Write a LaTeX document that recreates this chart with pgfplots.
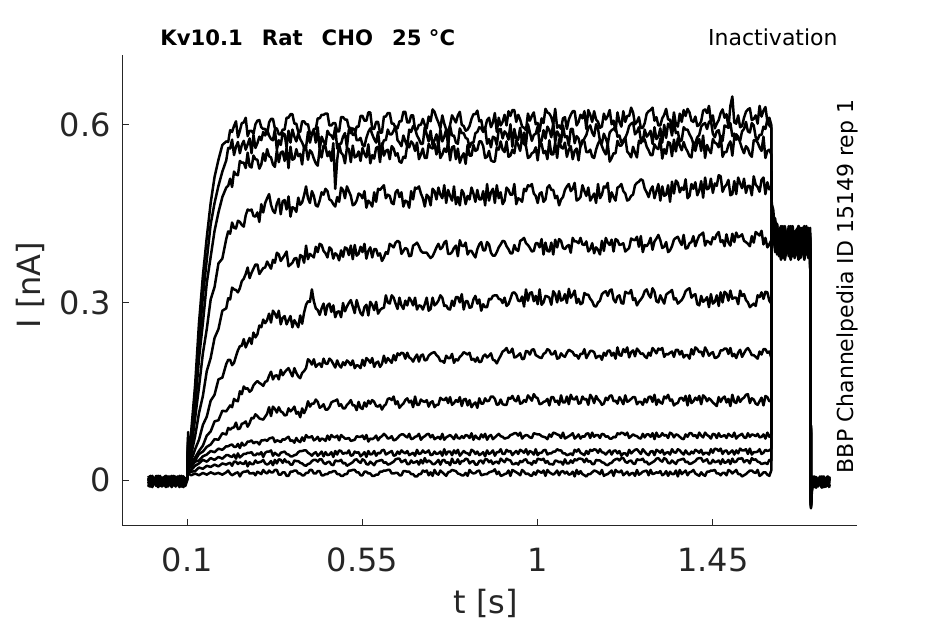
\documentclass[border=0pt]{standalone}
\usepackage{fontspec}
\setmainfont{DejaVu Sans}
\usepackage{pgfplots}
\usepackage{pgfplotstable}
\pgfplotsset{compat=1.18}
\definecolor{axgray}{RGB}{38,38,38}
% time in ms, current in pA
\pgfplotstableread{
t a b c d e f g h i j k l
0 1 -10 3 7 2 0 3 -2 -3 -2 -12 -6
5 -6 2 -9 -1 5 7 -5 6 -11 -9 -5 4
10 -12 5 -5 -8 6 -7 -10 -3 -7 3 4 7
15 -5 -4 0 1 -4 -1 -6 3 2 1 0 -1
20 4 -8 3 -3 -2 -10 4 -9 5 -6 7 -8
25 0 -2 -5 -11 -9 2 7 -5 6 -12 -7 1
30 7 6 -10 -7 3 5 -1 0 -4 -5 -1 -3
35 -7 -3 -6 2 1 -4 -8 3 -2 4 -10 -11
40 -1 3 4 5 -6 -8 1 -5 -9 0 2 -7
45 -10 -9 7 6 -12 -2 -3 -10 3 7 5 2
50 2 -5 -1 -4 -5 6 -11 -6 1 -7 -4 5
55 5 0 -8 -2 4 -3 -7 4 -6 -1 -8 6
60 -4 3 1 -9 0 3 2 7 -12 -10 -2 -4
65 -8 -5 -3 3 7 -9 5 -1 -5 2 6 -2
70 -2 -10 -11 1 -7 -5 6 -8 4 5 -3 -9
75 6 -6 -7 -6 -1 0 -4 1 0 -4 3 3
80 -3 4 2 -12 -10 3 -2 -3 7 -8 -9 1
85 3 7 5 -5 2 -5 -9 -11 -7 -2 -5 -6
90 -9 -1 6 4 5 -10 3 -7 -1 6 0 -12
95 -5 -8 -4 0 -4 -6 1 2 -10 -3 3 -5
100 4 6 2 5 1 6 3 4 0 5 2 3
102 72 81 62 66 55 58 47 50 38 36 29 24
105 48 44 38 34 31 30 27 24 21 18 13 10
110 82 73 61 52 43 33 27 26 22 17 14 8
120 160 148 124 104 74 52 38 33 31 24 15 11
130 265 230 205 157 113 68 49 44 33 28 21 8
140 345 310 265 214 142 93 58 48 40 34 19 12
150 410 372 333 255 184 107 75 56 43 31 24 9
160 468 432 377 305 206 134 82 60 49 37 22 13
170 512 468 421 326 240 144 99 69 47 34 26 10
180 541 497 452 366 255 170 101 68 53 39 23 12
190 566 521 478 374 286 173 117 79 51 36 28 9
200 572 540 494 407 290 196 116 77 57 42 26 13
205 571 561 497 420 307 203 121 88 57 42 28 16
210 591 560 509 416 305 203 126 85 59 40 29 11
215 588 575 495 435 325 194 123 88 60 39 24 8
220 598 549 521 426 322 198 137 89 56 43 31 10
225 606 563 516 425 321 209 134 97 56 36 31 12
230 579 571 515 438 317 219 133 86 61 45 27 13
235 590 552 539 436 324 226 150 87 54 38 30 6
240 603 566 536 431 336 227 145 95 63 41 28 12
245 604 573 536 428 340 238 158 96 58 44 27 14
250 612 558 527 447 348 224 154 99 60 44 32 14
255 581 567 553 457 359 232 155 90 65 46 23 16
260 590 577 530 455 341 240 149 96 65 46 30 11
265 590 552 528 457 350 230 152 105 67 47 27 11
270 585 583 548 446 357 249 160 104 62 42 27 12
275 601 561 542 445 364 241 164 111 64 42 33 8
280 607 569 541 452 364 246 167 108 64 45 29 14
285 608 580 526 436 348 261 164 104 60 43 30 12
290 596 574 533 466 353 258 162 103 67 47 31 10
295 593 588 552 452 358 271 159 102 67 39 34 17
300 593 582 539 468 359 265 166 107 68 46 28 13
305 584 592 559 476 369 270 167 112 66 48 26 11
310 604 582 547 483 363 281 176 123 70 48 28 16
315 610 576 545 465 357 266 183 108 71 50 32 13
320 610 574 533 455 372 286 170 124 72 41 25 13
325 594 592 529 451 367 281 176 120 64 46 34 17
330 594 558 557 467 384 274 177 114 67 43 28 17
335 584 574 537 475 381 286 170 123 66 41 35 9
340 584 566 553 449 370 263 186 116 64 46 34 9
345 592 586 555 471 375 274 177 114 69 47 29 13
350 592 584 539 473 380 277 182 109 68 48 35 13
355 612 562 561 457 386 263 186 110 71 44 30 7
360 612 590 527 479 361 270 189 121 73 43 31 7
365 618 570 563 445 364 277 182 116 66 40 26 14
370 618 592 541 461 367 258 175 119 67 40 26 14
375 602 580 543 459 374 270 189 124 63 42 33 16
380 602 572 559 453 375 264 181 112 71 43 32 16
385 588 586 547 477 360 258 175 115 66 47 32 11
390 588 576 551 465 380 278 172 106 64 49 29 11
395 606 570 533 469 378 264 181 121 72 49 28 8
400 606 562 565 481 367 283 184 113 66 50 25 8
405 601 562 561 496 396 296 189 120 76 50 24 12
410 601 588 541 476 373 302 204 133 72 46 27 12
415 585 570 557 468 382 301 201 124 72 44 28 17
420 585 584 553 488 379 322 195 129 74 41 32 17
425 593 590 543 480 376 302 204 129 67 45 34 11
430 593 570 535 464 394 290 191 136 69 47 34 11
435 611 596 531 462 385 287 195 132 73 41 31 15
440 611 558 559 472 399 279 197 122 66 44 35 15
445 617 580 545 486 397 290 191 124 70 48 35 8
450 617 572 565 482 387 298 205 128 69 40 29 8
455 619 566 563 492 383 279 197 119 66 47 27 10
460 619 590 547 488 376 295 196 119 75 42 30 10
465 599 584 555 474 393 298 205 123 68 43 31 13
470 599 582 539 472 390 284 202 131 76 47 26 13
475 603 576 569 466 374 295 196 133 73 39 25 15
480 603 596 492 462 383 275 190 134 72 49 33 15
485 589 560 541 478 380 284 202 136 75 43 32 10
490 589 568 567 470 371 285 194 125 67 50 32 10
495 613 568 553 494 388 275 190 128 76 49 34 7
500 613 580 549 490 377 299 199 121 73 44 28 7
505 609 586 535 476 393 285 194 121 70 46 29 10
510 609 562 561 496 391 293 202 127 70 45 24 10
515 595 592 559 488 380 299 199 130 71 50 26 16
520 595 586 537 480 396 304 194 135 66 41 28 16
525 583 594 565 464 373 293 202 126 67 42 30 17
530 583 592 545 466 397 282 189 126 68 48 34 17
535 597 574 547 472 379 304 194 118 74 46 35 13
540 597 574 555 484 382 292 193 132 73 47 31 13
545 615 578 539 482 394 282 189 122 73 40 29 8
550 615 566 561 476 385 278 203 120 75 43 35 8
555 607 564 551 488 399 292 193 131 69 47 33 14
560 607 578 545 460 374 296 206 124 76 39 27 14
565 621 588 567 472 387 278 203 134 65 49 26 11
570 621 594 535 468 393 301 198 129 70 43 31 11
575 593 584 549 462 376 296 206 135 69 44 28 7
580 593 576 543 486 390 287 191 132 71 49 25 7
585 605 570 561 470 390 301 198 125 75 41 31 9
590 605 588 563 492 379 281 200 124 67 46 32 9
595 587 558 537 490 383 287 191 127 72 45 33 14
600 587 564 569 494 370 290 196 119 74 50 34 14
605 614 574 548 498 376 291 210 125 78 51 29 16
610 614 574 556 476 385 312 198 128 75 43 30 16
615 620 592 558 482 382 300 206 137 70 45 26 17
620 620 584 542 480 399 298 202 138 71 47 27 17
625 602 584 564 468 396 312 198 135 74 49 29 11
630 602 590 560 466 393 308 211 141 67 41 31 11
635 594 598 548 486 401 298 202 128 68 42 35 12
640 594 574 552 490 404 289 214 133 71 48 36 12
645 606 570 538 478 402 308 211 122 75 44 36 8
650 606 564 536 486 382 295 215 126 77 50 30 8
655 622 582 546 462 387 289 214 129 77 47 32 15
660 622 572 544 472 392 303 205 135 74 45 34 15
665 604 564 566 470 390 295 215 138 72 49 27 14
670 604 592 562 460 378 308 207 131 78 42 27 14
675 616 588 572 488 379 303 205 134 69 44 33 10
680 616 598 568 474 396 295 200 123 70 46 29 10
685 592 594 556 494 398 308 207 141 73 41 30 6
690 592 582 570 492 401 288 212 127 74 51 32 6
695 600 576 542 496 395 295 200 127 78 44 26 10
700 600 568 550 484 387 294 210 136 68 45 34 10
705 610 568 560 476 384 288 212 133 72 50 28 16
710 600 596 544 462 384 297 202 132 74 46 37 14
715 594 584 544 482 384 308 203 135 77 47 30 16
720 614 572 568 478 379 286 210 124 78 50 33 8
725 606 590 562 464 375 289 213 131 72 42 31 13
730 626 566 560 492 378 308 215 133 76 43 27 7
735 622 574 568 488 385 295 216 123 69 48 27 17
740 612 584 550 474 393 298 211 127 71 44 30 11
745 604 564 570 494 399 303 208 127 73 45 34 9
750 594 592 544 482 390 312 201 139 69 48 26 16
755 616 572 550 476 393 308 201 136 78 41 33 13
760 602 580 560 498 401 294 198 135 68 52 34 10
765 592 592 554 468 404 295 210 139 72 43 29 7
770 588 564 570 490 382 289 206 130 74 48 30 13
775 600 598 540 480 382 288 206 140 76 48 25 14
780 616 582 562 472 385 303 213 127 73 42 36 17
785 610 582 564 496 392 294 198 130 69 50 29 16
790 604 570 542 466 396 309 204 135 77 45 29 15
795 616 568 560 478 378 309 202 132 71 51 35 11
800 622 594 536 464 405 300 208 140 70 41 27 10
805 600 586 546 490 396 314 211 125 74 45 32 8
810 598 586 552 484 395 288 216 136 71 49 32 8
815 590 578 534 466 401 302 214 137 76 46 36 12
820 592 576 566 480 381 302 212 126 75 45 35 7
825 598 562 548 474 387 291 215 135 71 42 28 17
830 610 570 548 494 387 292 203 123 79 51 31 13
835 618 570 566 484 381 305 205 128 68 49 32 11
840 618 586 556 470 376 311 200 131 75 44 26 12
845 624 588 558 490 390 298 207 122 71 48 26 15
850 606 596 572 474 398 305 199 138 69 42 32 16
855 608 594 572 474 402 286 200 129 77 44 33 8
860 590 588 564 488 388 297 209 129 72 47 28 9
865 594 596 544 464 388 292 212 138 78 40 35 10
870 608 568 546 500 402 292 207 133 68 50 35 10
875 612 576 556 472 398 306 210 134 74 44 30 13
880 596 562 540 486 384 305 214 141 76 46 33 14
885 604 580 538 492 379 311 203 141 69 50 27 15
890 620 578 538 468 379 312 202 137 72 41 30 18
895 588 566 562 498 385 312 197 127 75 47 31 10
900 612 592 558 476 393 306 204 128 78 47 28 14
905 599 593 572 486 398 305 210 136 74 52 36 7
910 605 577 558 466 404 299 217 128 73 44 33 8
915 617 589 554 472 403 308 219 127 70 44 30 10
920 599 585 572 494 395 294 223 127 71 51 36 11
925 623 575 546 490 390 297 215 139 72 48 34 16
930 615 601 548 482 383 306 216 137 76 49 33 7
935 625 563 558 482 383 316 222 142 77 42 27 17
940 625 593 552 500 397 317 207 135 79 46 27 15
945 605 577 574 466 389 313 208 133 79 49 29 13
950 617 575 566 476 387 303 211 142 75 44 26 11
955 609 595 556 474 404 302 214 129 80 51 32 8
960 597 569 578 470 406 310 204 130 70 49 30 17
965 595 587 568 492 409 293 205 135 74 46 34 14
970 591 567 564 488 400 322 218 132 76 52 35 10
975 619 601 544 498 397 303 217 143 75 43 29 11
980 607 587 546 496 392 316 212 139 72 49 29 8
985 615 573 552 500 386 317 220 134 71 47 26 7
990 621 583 554 484 387 302 221 145 79 43 32 13
995 601 585 562 480 400 311 211 140 78 52 29 9
1000 603 597 540 468 400 297 209 138 77 42 36 16
1005 589 567 568 484 393 322 207 128 77 46 35 14
1010 611 573 568 486 407 296 206 129 74 46 34 12
1015 603 591 552 470 381 300 213 132 73 50 36 16
1020 627 577 556 474 401 311 215 133 72 51 29 7
1025 621 597 542 494 387 310 221 137 69 43 32 17
1030 619 591 574 498 386 308 219 126 77 45 27 13
1035 613 579 550 490 401 296 212 140 73 45 27 11
1040 601 603 550 490 381 319 213 140 80 48 26 9
1045 627 571 570 476 406 314 218 132 79 48 33 12
1050 595 589 544 480 393 300 205 134 77 52 32 16
1055 599 583 576 464 407 319 206 127 76 50 30 8
1060 593 571 562 474 404 303 214 143 71 50 31 14
1065 611 599 560 478 392 305 210 131 80 45 26 15
1070 613 579 570 490 390 314 208 131 70 45 35 11
1075 593 581 546 496 395 299 215 141 72 42 28 14
1080 609 565 558 500 397 323 220 128 74 43 28 9
1085 617 593 564 488 384 308 218 144 76 45 33 10
1090 623 593 542 492 409 313 216 137 79 42 29 14
1095 623 569 556 502 403 320 210 136 70 51 35 6
1100 599 581 560 472 403 299 211 141 73 48 33 17
1105 605 577 540 474 400 306 205 129 77 52 36 10
1110 617 563 566 478 409 297 213 130 70 46 36 15
1115 611 571 574 498 398 299 213 141 74 44 35 10
1120 623 577 572 488 397 316 221 136 73 42 30 8
1125 593 583 554 480 403 313 206 137 78 49 36 6
1130 625 595 554 494 386 313 212 127 79 44 31 10
1135 617 599 558 472 390 306 218 144 71 51 32 10
1140 605 587 546 478 400 302 218 139 80 49 27 13
1145 623 581 544 484 383 294 216 130 73 52 27 16
1150 609 601 558 468 393 293 206 142 76 51 34 15
1155 605 593 568 500 389 300 209 136 76 46 33 13
1160 595 573 574 476 381 303 210 133 71 52 33 10
1165 597 569 564 482 404 314 203 127 78 47 30 17
1170 619 585 556 496 387 317 215 129 77 46 29 7
1175 609 577 550 494 409 319 210 139 73 43 26 9
1180 615 567 568 502 401 311 218 135 74 47 25 10
1185 625 587 538 470 397 320 219 142 70 50 28 13
1190 601 591 544 486 406 322 210 143 70 43 29 16
1195 607 593 552 478 386 305 215 133 73 49 33 7
1200 589 597 552 472 407 300 205 134 72 50 35 17
1205 621 580 573 494 405 310 224 129 79 45 36 14
1210 605 582 565 496 397 312 211 140 77 49 33 13
1215 597 570 565 500 398 299 210 135 80 41 37 16
1220 623 574 571 488 400 298 221 128 79 45 37 8
1225 605 578 579 484 386 318 216 143 76 45 31 11
1230 615 586 555 472 389 316 224 132 80 41 29 14
1235 615 598 551 474 392 315 207 134 71 51 32 8
1240 629 602 545 480 408 321 216 137 74 45 33 11
1245 621 604 563 482 406 304 219 140 77 48 28 12
1250 601 584 553 498 405 307 209 140 75 51 27 7
1255 605 588 545 502 411 295 222 128 74 52 35 17
1260 613 596 573 504 394 301 218 132 71 48 34 9
1265 595 574 569 508 412 305 213 132 70 44 34 11
1270 595 572 579 506 385 310 214 127 78 52 36 14
1275 603 592 575 492 397 319 209 137 72 48 30 15
1280 619 580 563 486 395 322 206 131 77 44 31 16
1285 623 584 557 478 400 313 215 140 77 42 26 8
1290 625 590 549 490 409 308 210 141 73 48 28 17
1295 629 568 549 496 389 324 223 132 79 49 30 10
1300 607 596 567 476 403 318 219 144 69 42 32 11
1305 613 576 561 488 408 302 214 127 80 51 36 13
1310 599 580 559 500 414 300 222 136 73 49 37 12
1315 599 594 577 472 405 312 220 131 74 46 33 15
1320 611 570 543 496 392 305 223 129 79 51 31 8
1325 617 600 559 480 394 298 208 141 75 43 37 10
1330 627 578 551 482 402 313 213 138 76 46 35 15
1335 609 602 571 498 385 316 212 144 71 47 29 7
1340 609 598 569 470 388 318 215 134 80 43 28 14
1345 593 582 547 504 395 321 217 136 78 52 33 10
1350 621 604 575 484 406 305 208 126 72 47 30 10
1355 601 586 555 506 409 307 220 129 77 46 27 16
1360 597 588 577 502 411 298 220 130 76 52 33 6
1365 619 572 565 486 403 301 212 138 73 50 34 17
1370 605 574 557 494 397 304 218 139 70 46 35 10
1375 625 596 571 490 414 310 207 134 69 43 36 13
1380 615 592 561 508 391 319 211 142 77 50 30 16
1385 627 592 555 476 392 322 211 126 73 45 31 8
1390 621 584 547 480 400 324 205 143 79 43 27 13
1395 607 578 545 500 402 308 221 130 79 48 28 14
1400 605 568 571 492 412 312 212 133 74 45 30 17
1405 614 569 556 503 395 314 224 139 76 51 32 11
1410 598 579 570 481 405 297 221 135 71 49 36 9
1415 600 583 576 489 413 295 216 142 80 46 37 7
1420 606 597 556 505 415 311 217 128 75 51 37 13
1425 624 601 582 477 418 301 209 143 72 43 31 9
1430 626 603 544 511 396 304 224 140 80 46 33 7
1435 620 593 566 491 404 309 218 133 76 46 35 14
1440 632 605 558 493 402 292 210 138 74 43 28 14
1445 606 607 552 509 398 314 214 135 70 52 28 16
1450 616 585 576 485 410 298 216 131 78 46 34 16
1455 594 579 570 501 407 301 206 128 77 53 30 17
1460 602 589 568 497 415 312 207 125 71 52 31 11
1465 608 591 562 515 419 294 210 140 79 49 33 11
1470 620 575 582 513 402 317 219 132 73 53 27 8
1475 626 573 546 487 405 300 219 138 74 44 35 12
1480 612 599 554 495 395 318 222 141 76 49 29 12
1485 618 597 554 499 415 315 222 131 71 50 30 8
1490 596 595 566 507 401 303 213 137 78 44 34 17
1495 632 603 572 481 396 320 223 125 75 47 27 15
1500 648 581 548 483 416 306 209 144 73 50 36 11
1505 604 585 578 505 402 308 213 132 80 43 30 14
1510 602 575 584 483 418 308 206 130 70 50 31 17
1515 616 577 580 511 410 297 215 141 74 45 36 10
1520 596 573 570 501 412 320 220 132 76 53 36 10
1525 598 589 560 493 415 311 208 137 78 50 37 6
1530 612 593 552 509 404 314 214 139 72 50 30 8
1535 622 605 564 485 402 304 220 144 71 52 33 10
1540 626 589 560 497 399 300 223 145 79 44 33 13
1545 628 587 550 497 395 292 218 130 73 53 28 16
1550 608 603 546 481 412 295 211 138 77 43 37 16
1555 610 599 574 513 401 298 211 136 76 47 34 13
1560 616 579 574 499 419 294 208 129 74 47 35 12
1565 602 575 570 495 416 312 205 127 78 48 31 17
1570 632 583 562 487 413 309 217 133 72 52 30 7
1575 614 583 556 507 421 317 212 139 73 44 27 9
1580 624 597 580 511 398 306 221 126 77 46 28 13
1585 630 593 544 483 409 318 221 142 70 51 29 13
1590 606 609 556 503 393 317 215 140 80 49 27 9
1595 612 599 558 491 398 303 217 133 73 50 34 7
1600 600 595 550 493 405 298 207 134 77 53 33 16
1601 472 466 442 463 430 457 445 424 466 433 448 439
1605 424 436 412 421 439 418 445 442 457 442 409 436
1610 415 442 415 391 412 385 394 436 418 436 430 430
1615 387 393 432 396 381 399 399 402 390 432 417 399
1620 417 405 399 420 387 420 408 384 411 396 390 378
1625 411 378 417 429 414 408 417 402 399 402 372 390
1630 390 414 381 405 423 429 393 426 375 381 393 420
1635 372 423 393 384 426 387 378 399 387 417 420 429
1640 393 396 408 411 396 405 390 417 414 411 408 405
1645 420 384 417 399 402 378 420 381 423 390 429 384
1650 408 402 393 375 381 414 429 393 426 372 387 411
1655 429 426 378 387 417 423 405 408 396 393 405 399
1660 387 399 390 414 411 396 384 417 402 420 378 375
1665 405 417 420 423 390 384 411 393 381 408 414 387
1670 378 381 429 426 372 402 399 378 417 429 423 414
1675 414 393 405 396 393 426 375 390 411 387 396 423
1680 423 408 384 402 420 399 387 420 390 405 384 426
1685 396 417 411 381 408 417 414 429 372 378 402 396
1690 384 393 399 417 429 381 423 405 393 414 426 402
1695 402 378 375 411 387 393 426 384 420 423 399 381
1700 426 390 387 390 405 408 396 411 408 396 417 417
1702 -48 -41 -36 -44 -32 -39 -46 -35 -42 -30 -38 -43
1705 -4 3 1 -13 -11 2 -3 -4 6 -9 -10 0
1710 2 6 4 -6 1 -6 -10 -12 -8 -3 -6 -7
1715 -10 -2 5 3 4 -11 2 -8 -2 5 -1 -13
1720 -6 -9 -5 -1 -5 -7 0 1 -11 -4 2 -6
1725 -1 0 -3 6 -9 3 -7 4 1 2 -6 3
1730 2 -4 -10 -8 -3 6 -13 5 4 -10 -11 -1
1735 -6 -12 2 -2 5 -2 -6 -5 -5 -6 -7 6
1740 -11 -8 0 -11 -4 -9 3 -3 -9 -1 3 -8
1745 -7 1 -7 1 2 0 -1 -10 -3 2 6 -2
1750 3 4 -13 4 -10 -4 6 2 5 -6 -2 -11
}\traces

\begin{document}
\begin{tikzpicture}
\path[use as bounding box] (-61.15pt,-49pt) rectangle (411.35pt,263pt);
\begin{axis}[
  at={(0pt,0pt)}, anchor=south west,
  scale only axis, width=367.2pt, height=235.5pt,
  xmin=-67, xmax=1819.5, ymin=-77.7, ymax=718,
  axis x line*=bottom, axis y line*=left,
  axis line style={draw=axgray, line width=0.5pt, -},
  tick align=inside, major tick length=3.5pt,
  tick style={draw=axgray, line width=0.5pt},
  xtick={100,550,1000,1450}, xticklabels={0.1,0.55,1,1.45},
  ytick={0,300,600}, yticklabels={0,0.3,0.6},
  /pgf/number format/assume math mode=true,
  ticklabel style={font=\fontsize{16}{19}\selectfont, text=axgray},
  xticklabel style={anchor=base, yshift=-23pt},
  yticklabel style={anchor=east, xshift=-2.3pt},
  trace/.style={black, line width=1.25pt, line join=round, no marks},
]
\addplot[trace] table[x=t,y=l]{\traces};
\addplot[trace] table[x=t,y=k]{\traces};
\addplot[trace] table[x=t,y=j]{\traces};
\addplot[trace] table[x=t,y=i]{\traces};
\addplot[trace] table[x=t,y=h]{\traces};
\addplot[trace] table[x=t,y=g]{\traces};
\addplot[trace] table[x=t,y=f]{\traces};
\addplot[trace] table[x=t,y=e]{\traces};
\addplot[trace] table[x=t,y=d]{\traces};
\addplot[trace] table[x=t,y=c]{\traces};
\addplot[trace] table[x=t,y=b]{\traces};
\addplot[trace] table[x=t,y=a]{\traces};
\end{axis}
\node[anchor=base west, font=\fontsize{10.6}{12.7}\selectfont\bfseries, inner sep=0pt] at (18.85pt,240.15pt) {Kv10.1\hspace{9.5pt}Rat\hspace{9.5pt}CHO\hspace{9.5pt}25 °C};
\node[anchor=base east, font=\fontsize{11}{13}\selectfont, inner sep=0pt] at (357.85pt,240pt) {Inactivation};
\node[rotate=90, anchor=base, font=\fontsize{11}{13}\selectfont, inner sep=0pt] at (365.35pt,119.75pt) {BBP Channelpedia ID 15149 rep 1};
\node[rotate=90, anchor=center, font=\fontsize{16}{19}\selectfont, text=axgray] at (-46pt,120.5pt) {I [nA]};
\node[anchor=base, font=\fontsize{16}{19}\selectfont, text=axgray, inner sep=0pt] at (181.6pt,-44pt) {t [s]};
\end{tikzpicture}
\end{document}
